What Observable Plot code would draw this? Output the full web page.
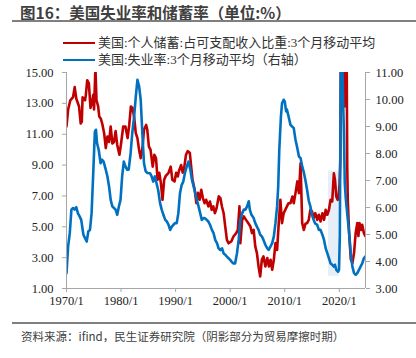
<!DOCTYPE html>
<html><head><meta charset="utf-8">
<script src="https://cdn.jsdelivr.net/npm/d3@7"></script>
<script src="https://cdn.jsdelivr.net/npm/@observablehq/plot@0.6"></script>
<style>
body{margin:0;width:416px;height:358px;position:relative;background:#fff;overflow:hidden;font-family:"Noto Sans CJK SC",sans-serif;}
.abs{position:absolute;white-space:nowrap;}
#title{left:20px;top:2px;font-size:15.5px;line-height:20px;font-weight:bold;color:#3f3f3f;}
#tline{left:12px;top:20px;width:404px;height:2px;background:#7f7f7f;}
.sw{width:32px;height:2.5px;}
.lg{font-family:"Liberation Serif","Noto Sans CJK SC",serif;font-size:13px;line-height:17px;color:#333;}
#chart{left:0;top:62px;}
#fline{left:12px;top:322px;width:404px;height:1.5px;background:#7f7f7f;}
#src{left:21px;top:328px;font-size:11.5px;line-height:16px;color:#404040;}
</style></head>
<body>
<div class="abs" id="title">图16：美国失业率和储蓄率（单位:%）</div>
<div class="abs" id="tline"></div>
<div class="abs sw" style="left:63px;top:41.5px;background:#c00000"></div>
<div class="abs lg" style="left:98px;top:34px">美国:个人储蓄:占可支配收入比重:3个月移动平均</div>
<div class="abs sw" style="left:63px;top:58.5px;background:#0070c0"></div>
<div class="abs lg" style="left:98px;top:51px">美国:失业率:3个月移动平均（右轴）</div>
<div class="abs" id="chart"></div>
<div class="abs" id="fline"></div>
<div class="abs" id="src">资料来源：ifind，民生证券研究院（阴影部分为贸易摩擦时期）</div>
<script>
const xDomain = [1970, 2024.8];
const xTicks = [1970, 1980, 1990, 2000, 2010, 2020];
const leftTicks = [1, 3, 5, 7, 9, 11, 13, 15];
const rightTicks = [3, 4, 5, 6, 7, 8, 9, 10, 11];

const savingYears = [1970.0,1970.3,1970.7,1971.2,1971.5,1971.8,1972.3,1972.6,1972.8,1972.95,1973.4,1973.55,1973.8,1974.1,1974.4,1974.7,1974.9,1975.05,1975.3,1975.5,1975.8,1976.0,1976.3,1976.6,1976.9,1977.2,1977.5,1977.8,1978.1,1978.4,1978.7,1979.0,1979.3,1979.7,1980.0,1980.4,1980.8,1981.2,1981.5,1981.8,1982.1,1982.4,1982.7,1983.0,1983.3,1983.6,1983.95,1984.2,1984.6,1984.8,1985.1,1985.4,1985.8,1986.1,1986.4,1986.7,1987.0,1987.3,1987.6,1987.9,1988.2,1988.7,1989.1,1989.4,1989.8,1990.1,1990.4,1990.6,1991.0,1991.3,1991.6,1991.9,1992.2,1992.6,1992.85,1993.1,1993.5,1993.8,1994.1,1994.4,1994.7,1995.0,1995.3,1995.6,1996.0,1996.3,1996.6,1996.9,1997.2,1997.5,1997.9,1998.2,1998.5,1998.8,1999.1,1999.4,1999.7,2000.2,2000.6,2001.1,2001.4,2001.7,2001.86,2002.2,2002.5,2002.9,2003.3,2003.7,2004.0,2004.3,2004.6,2004.9,2005.2,2005.5,2005.8,2006.1,2006.45,2006.8,2007.1,2007.4,2007.7,2008.0,2008.3,2008.6,2008.9,2009.2,2009.5,2009.8,2010.1,2010.4,2010.7,2011.05,2011.4,2011.65,2011.97,2012.3,2012.6,2012.9,2013.2,2013.5,2013.8,2014.1,2014.4,2014.7,2015.0,2015.3,2015.6,2015.95,2016.25,2016.56,2016.9,2017.2,2017.5,2017.8,2018.1,2018.4,2018.7,2019.0,2019.2,2019.45,2019.7,2019.9,2020.05,2020.2,2020.3,2020.45,2020.6,2020.75,2020.95,2021.1,2021.25,2021.35,2021.45,2021.55,2021.8,2022.1,2022.4,2022.7,2023.0,2023.3,2023.5,2023.7,2024.0,2024.2,2024.5,2024.75];
const savingValues = [11.5,12.6,13.2,13.4,14.05,13.3,12.8,11.7,11.8,13.4,13.2,13.55,14.5,14.3,12.7,13.1,13.55,12.6,15.3,13.2,12.8,12.15,12.0,11.6,11.07,10.1,10.85,10.5,11.5,10.4,10.5,11.2,10.3,9.67,10.4,11.5,11.5,10.75,11.6,12.8,12.7,12.1,11.07,10.75,10.0,9.45,10.2,11.3,11.6,11.3,10.2,10.0,8.9,9.67,9.45,8.05,8.5,7.83,6.75,8.05,8.3,8.5,8.9,8.05,7.94,8.5,8.26,8.6,9.0,8.5,8.9,9.67,9.9,9.8,8.9,8.05,7.4,6.53,7.2,6.75,7.4,6.86,6.53,6.75,6.32,6.64,6.1,6.32,5.88,6.2,6.97,6.86,6.3,5.88,5.0,4.15,3.93,4.05,4.37,4.59,4.8,6.32,3.94,5.45,5.67,5.45,5.24,5.02,4.59,4.8,3.72,3.29,2.43,1.78,2.86,3.08,2.43,2.97,2.43,2.86,2.21,2.86,3.94,3.5,5.24,6.75,5.24,5.88,6.1,6.32,6.53,6.53,6.96,6.53,7.18,7.94,7.18,9.12,5.24,4.8,5.2,5.24,5.45,6.1,6.0,5.56,5.88,5.45,5.78,5.35,5.88,5.45,6.1,5.78,6.1,6.75,6.64,8.47,8.05,6.97,6.75,7.0,7.8,9.5,18,24,19,15.5,12.8,16,20,16,9,6.75,4.6,2.9,2.65,3.3,4.6,5.24,4.4,5.24,4.8,5.13,4.6,4.4];

const unempYears = [1970.0,1970.3,1970.6,1970.9,1971.2,1971.5,1971.8,1972.1,1972.4,1972.7,1973.1,1973.4,1973.7,1974.0,1974.3,1974.6,1974.9,1975.2,1975.4,1975.6,1975.9,1976.25,1976.5,1976.8,1977.2,1977.5,1977.8,1978.1,1978.4,1978.7,1979.0,1979.3,1979.6,1979.9,1980.2,1980.5,1980.8,1981.1,1981.4,1981.75,1982.05,1982.4,1982.7,1983.0,1983.3,1983.6,1983.9,1984.2,1984.5,1984.8,1985.3,1985.6,1985.9,1986.2,1986.5,1986.8,1987.15,1987.45,1987.76,1988.1,1988.4,1988.7,1989.0,1989.3,1989.6,1989.9,1990.2,1990.5,1990.8,1991.1,1991.4,1991.7,1992.05,1992.35,1992.7,1993.0,1993.3,1993.6,1993.9,1994.2,1994.5,1994.8,1995.1,1995.4,1995.7,1996.0,1996.3,1996.65,1996.95,1997.26,1997.6,1997.87,1998.2,1998.5,1998.8,1999.1,1999.4,1999.7,2000.0,2000.3,2000.6,2000.9,2001.25,2001.55,2001.86,2002.2,2002.5,2002.8,2003.1,2003.4,2003.6,2003.9,2004.3,2004.6,2004.9,2005.2,2005.5,2005.8,2006.1,2006.45,2006.8,2007.06,2007.4,2007.7,2008.0,2008.3,2008.6,2008.8,2009.0,2009.3,2009.5,2009.8,2010.0,2010.25,2010.4,2010.7,2011.05,2011.35,2011.65,2011.97,2012.3,2012.6,2012.9,2013.2,2013.5,2013.8,2014.1,2014.4,2014.7,2015.0,2015.3,2015.6,2015.95,2016.25,2016.56,2016.9,2017.2,2017.5,2017.8,2018.1,2018.4,2018.7,2019.0,2019.2,2019.45,2019.75,2019.95,2020.1,2020.25,2020.4,2020.55,2020.7,2020.85,2021.0,2021.2,2021.5,2021.8,2022.1,2022.4,2022.7,2023.0,2023.3,2023.6,2023.9,2024.2,2024.5,2024.75];
const unempValues = [3.57,4.56,5.05,5.92,5.98,5.92,6.01,5.78,5.67,5.54,4.99,4.86,4.74,5.11,5.17,5.79,7.27,8.81,8.88,8.38,8.14,7.64,7.77,7.7,7.4,7.15,6.78,6.28,6.04,5.98,5.92,5.73,6.04,6.28,7.15,7.7,7.52,7.4,7.4,8.01,8.75,9.37,10.11,10.73,10.5,9.99,8.75,7.64,7.35,7.28,7.27,7.15,6.96,7.15,6.9,6.65,6.16,5.92,5.73,5.54,5.48,5.36,5.17,5.29,5.36,5.42,5.42,5.79,6.53,6.83,6.96,7.27,7.52,7.7,7.4,7.02,6.78,6.53,6.28,6.04,5.79,5.54,5.61,5.6,5.54,5.48,5.36,5.17,5.05,4.8,4.67,4.49,4.42,4.49,4.3,4.25,4.18,4.12,4.06,3.98,3.93,3.93,4.31,4.8,5.54,5.79,5.92,5.92,6.04,6.23,5.92,5.73,5.61,5.42,5.29,5.17,4.99,4.93,4.8,4.62,4.49,4.43,4.56,4.68,4.93,5.42,6.04,6.78,8.14,9.37,9.86,9.99,9.93,9.56,9.63,9.37,9.06,9.0,8.94,8.51,8.2,7.89,7.83,7.52,7.3,7.0,6.65,6.25,6.04,5.72,5.54,5.4,5.36,5.17,5.17,4.99,4.8,4.49,4.31,4.12,3.93,3.88,3.81,3.88,3.69,3.62,3.69,5.0,10.8,13.0,11.5,9.9,8.75,6.9,6.3,5.67,5.05,4.31,3.81,3.57,3.51,3.57,3.69,3.81,3.93,4.12,4.18];

// trade-friction shading (right-axis units)
const shadeStart = [2018.0];
const shadeEnd = [2020.0];
const shadeLow = [3.45];
const shadeHigh = [7.35];

// map right axis (3..11) onto left axis (1..15)
const toLeft = u => 1 + (u - 3) * 14 / 8;
const fromLeft = v => (v - 1) * 8 / 14 + 3;

const saving = savingYears.map((t, i) => ({t, v: savingValues[i]}));
const unemp = unempYears.map((t, i) => ({t, v: toLeft(unempValues[i])}));
const shade = shadeStart.map((s, i) => ({s, e: shadeEnd[i], lo: toLeft(shadeLow[i]), hi: toLeft(shadeHigh[i])}));

const axisColor = "#a6a6a6";
const chart = Plot.plot({
  width: 416, height: 256,
  marginTop: 10, marginBottom: 30, marginLeft: 66, marginRight: 51,
  style: {fontFamily: '"Liberation Serif", serif', fontSize: "12.5px", color: "#222", background: "transparent"},
  x: {domain: xDomain, axis: null},
  y: {domain: [1, 15], axis: null},
  marks: [
    Plot.rect(shade, {x1: "s", x2: "e", y1: "lo", y2: "hi", fill: "#e6eff8"}),
    Plot.line(saving, {x: "t", y: "v", stroke: "#c00000", strokeWidth: 2.6, clip: true}),
    Plot.line(unemp, {x: "t", y: "v", stroke: "#0070c0", strokeWidth: 2.6, clip: true}),
    Plot.ruleX([xDomain[0], xDomain[1]], {stroke: axisColor}),
    Plot.ruleY([1], {stroke: axisColor}),
    Plot.axisY(leftTicks, {anchor: "left", tickSize: 4, tickPadding: 9, stroke: axisColor, fill: "#222", tickFormat: d => d.toFixed(2)}),
    Plot.axisY(rightTicks.map(toLeft), {anchor: "right", tickSize: 4, tickPadding: 6, stroke: axisColor, fill: "#222", tickFormat: d => fromLeft(d).toFixed(2)}),
    Plot.axisX(xTicks, {anchor: "bottom", tickSize: 4, tickPadding: 4, stroke: axisColor, fill: "#222", tickFormat: d => `${d}/1`})
  ]
});
document.getElementById("chart").appendChild(chart);
</script>
</body></html>
